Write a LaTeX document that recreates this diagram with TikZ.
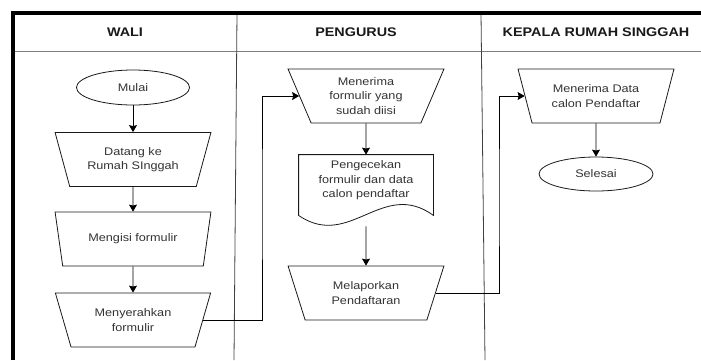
\documentclass[tikz,border=0pt]{standalone}
\usepackage{fontspec}
\setmainfont{Liberation Sans}[FakeStretch=1.15]
\usetikzlibrary{arrows.meta, shapes.geometric}

\begin{document}
\begin{tikzpicture}[x=1pt, y=-1pt, line width=0.8pt,
  every node/.style={font=\fontsize{11}{14.5}\selectfont, text=black!80},
  lanehead/.style={font=\fontsize{12.5}{14}\selectfont\bfseries, text=black!90},
  manual/.style={trapezium, trapezium left angle=112, trapezium right angle=112,
                 trapezium stretches=true, draw=black!90, minimum width=156pt,
                 minimum height=54pt, inner sep=1pt, align=center},
  terminal/.style={ellipse, draw=black!90, minimum width=113pt,
                   minimum height=35pt, inner sep=0pt},
  docshape/.style={rectangle, minimum width=134pt, minimum height=71pt,
                   inner sep=0pt, align=center, text depth=22pt},
  arrow/.style={-{Stealth[length=7pt, width=8pt, inset=1pt]}, black}
]
  \useasboundingbox (0,0) rectangle (701,360);

  \draw[black!50] (13,51) -- (701,51);
  \draw[black!75] (237,13) -- (234,360);
  \draw[black!75] (481,13) -- (485,360);
  \draw[line width=3.5pt] (13,360) -- (13,13) -- (701,13);

  \node[lanehead] (wali)     at (125,32) {WALI};
  \node[lanehead] (pengurus) at (356,32) {PENGURUS};
  \node[lanehead] (kepala)   at (596,32) {KEPALA RUMAH SINGGAH};

  \node[terminal] (mulai)       at (133,87.5) {Mulai};
  \node[manual]   (datang)      at (133,159.5) {Datang ke\\Rumah SInggah};
  \node[manual]   (mengisi)     at (133,239)   {Mengisi formulir};
  \node[manual]   (menyerahkan) at (133,320)   {Menyerahkan\\formulir};

  \draw[arrow] (mulai)   -- (datang);
  \draw[arrow] (datang)  -- (mengisi);
  \draw[arrow] (mengisi) -- (menyerahkan);

  \node[manual]   (menerima)   at (366,96)    {Menerima\\formulir yang\\sudah diisi};
  \node[docshape] (pengecekan) at (366,190.5) {Pengecekan\\formulir dan data\\calon pendaftar};
  \draw[black!90] (pengecekan.north west) -- ([yshift=11pt]pengecekan.south west)
    .. controls +(51,35) and +(-51,-37) .. ([yshift=11pt]pengecekan.south east)
    -- (pengecekan.north east) -- cycle;
  \node[manual]   (melaporkan) at (366,293)   {Melaporkan\\Pendaftaran};

  \draw[arrow] (menerima)   -- (pengecekan);
  \draw[arrow] (pengecekan) -- (melaporkan);

  \node[manual]   (menerimadata) at (596,96) {Menerima Data\\calon Pendaftar};
  \node[terminal, minimum width=114pt, minimum height=34pt] (selesai) at (596,174) {Selesai};

  \draw[arrow] (menerimadata) -- (selesai);

  \coordinate (belok1) at (262,200);
  \coordinate (belok2) at (499,200);
  \draw[arrow] (menyerahkan.east) -| (belok1) |- (menerima.west);
  \draw[arrow] (melaporkan.east)  -| (belok2) |- (menerimadata.west);
\end{tikzpicture}
\end{document}
